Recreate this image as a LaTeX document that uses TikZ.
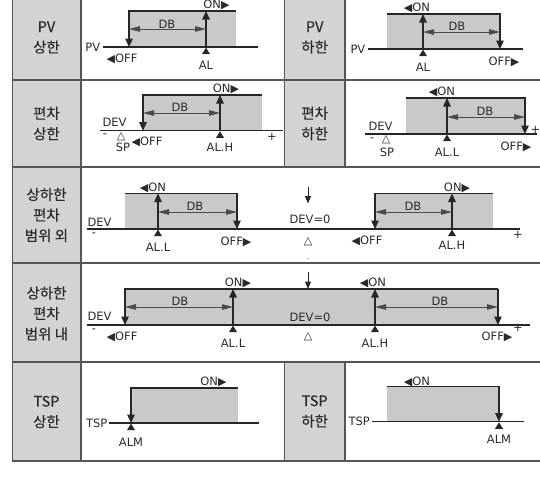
\documentclass[tikz,border=0pt]{standalone}
\usepackage{fontspec}
\setmainfont{DejaVu Sans}
\newfontfamily\kr[FakeBold=0.15]{Noto Sans CJK KR}
\usetikzlibrary{arrows.meta}
\definecolor{lgray}{HTML}{D3D3D3}
\definecolor{zgray}{HTML}{C9C9C9}
\definecolor{gridc}{HTML}{555555}
\definecolor{dbc}{HTML}{4A4A4A}
\definecolor{txtc}{HTML}{2A2A2A}
\newcommand\rtri{{\fontsize{11}{11}\selectfont▶}}
\newcommand\ltri{{\fontsize{11}{11}\selectfont◀}}
\newcommand\otri{{\fontsize{11}{11}\selectfont△}}
\newcommand\upmark[1]{\fill[black!85] (#1) ++(0,0.6) -- ++(4,6.5) -- ++(-8,0) -- cycle;}
\begin{document}
\begin{tikzpicture}[x=1pt,y=-1pt,
  grid/.style={draw=gridc,line width=1.6pt},
  lab/.style={font=\kr\fontsize{14.5}{20.5}\selectfont,align=center,inner sep=0,text=txtc},
  txt/.style={font=\fontsize{11.5}{11.5}\selectfont,inner sep=0,text=txtc},
  baseln/.style={draw=black!85,line width=1.3pt},
  zone/.style={fill=zgray},
  sig/.style={draw=black!85,line width=1.3pt,-{Triangle[width=7.5pt,length=8.5pt]}},
  dbarrow/.style={draw=dbc,line width=0.9pt,{Triangle[width=5.5pt,length=11pt]}-{Triangle[width=5.5pt,length=11pt]}}
]
\useasboundingbox (0,0) rectangle (540,477);
% ---------- table ----------
\fill[lgray] (12.3,0) rectangle (80.7,460.7);
\fill[lgray] (284.3,0) rectangle (345,166.7);
\fill[lgray] (284.3,361.7) rectangle (345,460.7);
\draw[grid] (12.3,0) -- (12.3,460.7);
\draw[grid] (80.7,0) -- (80.7,460.7);
\draw[grid] (284.3,0) -- (284.3,166.7);
\draw[grid] (345,0) -- (345,166.7);
\draw[grid] (284.3,361.7) -- (284.3,460.7);
\draw[grid] (345,361.7) -- (345,460.7);
\foreach \yy in {80,166.7,262.7,361.7,460.7} \draw[grid] (11.5,\yy) -- (540,\yy);
% ---------- row labels ----------
\node[lab] (l1) at (46.5,37.5) {PV\\상한};
\node[lab] (l2) at (46.5,123.5) {편차\\상한};
\node[lab] (l3) at (46.5,215) {상하한\\편차\\범위 외};
\node[lab] (l4) at (46.5,313.5) {상하한\\편차\\범위 내};
\node[lab] (l5) at (46.5,412) {TSP\\상한};
\node[lab] (r1) at (314.7,37.5) {PV\\하한};
\node[lab] (r2) at (314.7,123.5) {편차\\하한};
\node[lab] (r5) at (314.7,411.5) {TSP\\하한};
% ---------- row 1 left : PV upper ----------
\fill[zone] (129,11) rectangle (236,47);
\draw[baseln] (103,47) -- (258,47);
\draw[sig] (236,11) -- (129,11) -- (129,47);
\draw[sig] (206,47) -- (206,11);
\draw[dbarrow] (129,29) -- (206,29);
\node[txt] (a1db) at (167,24.5) {DB};
\node[txt,anchor=east] (a1pv) at (100.5,47.5) {PV};
\node[txt] (a1on) at (216.5,5) {ON\rtri};
\node[txt] (a1off) at (122,59) {\ltri OFF};
\upmark{206,47}
\node[txt] (a1al) at (206,65) {AL};
% ---------- row 1 right : PV lower ----------
\fill[zone] (387,14) rectangle (500,49);
\draw[baseln] (368,49) -- (523,49);
\draw[sig] (387,14) -- (500,14) -- (500,49);
\draw[sig] (423,49) -- (423,14);
\draw[dbarrow] (423,32) -- (500,32);
\node[txt] (b1db) at (457,26.5) {DB};
\node[txt,anchor=east] (b1pv) at (365.5,49) {PV};
\node[txt] (b1on) at (417,8) {\ltri ON};
\node[txt] (b1off) at (504,62) {OFF\rtri};
\upmark{423,49}
\node[txt] (b1al) at (423,67) {AL};
% ---------- row 2 left : deviation upper ----------
\fill[zone] (143,95) rectangle (262,130.7);
\draw[baseln] (100,130.7) -- (283,130.7);
\draw[sig] (262,95) -- (143,95) -- (143,130.7);
\draw[sig] (220,130.7) -- (220,95);
\draw[dbarrow] (143,113) -- (220,113);
\node[txt] (a2db) at (180,107.5) {DB};
\node[txt] (a2dev) at (114.5,122) {DEV};
\node[txt] (a2m) at (105,136) {-};
\node[txt] (a2t) at (121,136.5) {\otri};
\node[txt] (a2sp) at (123,147.5) {SP};
\node[txt] (a2off) at (147,142) {\ltri OFF};
\node[txt] (a2on) at (226,89) {ON\rtri};
\upmark{220,130.7}
\node[txt] (a2al) at (220,147.5) {AL.H};
\node[txt] (a2p) at (272,137) {+};
% ---------- row 2 right : deviation lower ----------
\fill[zone] (406,98) rectangle (525,134);
\draw[baseln] (365,134) -- (537,134);
\draw[sig] (406,98) -- (525,98) -- (525,134);
\draw[sig] (447,134) -- (447,98);
\draw[dbarrow] (447,117) -- (525,117);
\node[txt] (b2db) at (485,111.5) {DB};
\node[txt] (b2dev) at (380.5,126) {DEV};
\node[txt] (b2m) at (372,139.5) {-};
\node[txt] (b2t) at (386,140) {\otri};
\node[txt] (b2sp) at (387,152.5) {SP};
\node[txt] (b2on) at (442,92) {\ltri ON};
\upmark{447,134}
\node[txt] (b2al) at (447,152.5) {AL.L};
\node[txt] (b2off) at (516,147) {OFF\rtri};
\node[txt] (b2p) at (535.5,130) {+};
% ---------- row 3 : outside band ----------
\fill[zone] (125,193.5) rectangle (237,229);
\fill[zone] (375,193.5) rectangle (493,229);
\draw[baseln] (87,229) -- (520,229);
\draw[sig] (125,193.5) -- (237,193.5) -- (237,229);
\draw[sig] (158,229) -- (158,193.5);
\draw[dbarrow] (158,212) -- (237,212);
\node[txt] (c3db1) at (195,206.5) {DB};
\draw[sig] (493,193.5) -- (375,193.5) -- (375,229);
\draw[sig] (452,229) -- (452,193.5);
\draw[dbarrow] (375,212) -- (452,212);
\node[txt] (c3db2) at (413,206.5) {DB};
\node[txt] (c3dev) at (99.5,222.5) {DEV};
\node[txt] (c3m) at (94,235) {-};
\node[txt] (c3on1) at (153,188) {\ltri ON};
\upmark{158,229}
\node[txt] (c3all) at (158,247) {AL.L};
\node[txt] (c3off1) at (236,242) {OFF\rtri};
\coordinate (c3z1) at (308,186.5);
\coordinate (c3z2) at (308,203.5);
\draw[sig,line width=1pt,-{Triangle[width=6pt,length=7.5pt]}] (c3z1) -- (c3z2);
\node[txt] (c3dz) at (310,219) {DEV=0};
\node[txt] (c3t) at (308,242) {\otri};
\fill[black!60] (308,258.5) circle (0.6);
\node[txt] (c3on2) at (457,188) {ON\rtri};
\upmark{452,229}
\node[txt] (c3alh) at (452,245) {AL.H};
\node[txt] (c3off2) at (367,241) {\ltri OFF};
\node[txt] (c3p) at (518,235) {+};
% ---------- row 4 : inside band ----------
\fill[zone] (125,289) rectangle (498,325);
\draw[baseln] (87,325) -- (530,325);
\draw[sig] (498,289) -- (125,289) -- (125,325);
\draw[sig] (498,289) -- (498,325);
\draw[sig] (233,325) -- (233,289);
\draw[sig] (375,325) -- (375,289);
\draw[dbarrow] (125,307) -- (233,307);
\node[txt] (d4db1) at (180,301.5) {DB};
\draw[dbarrow] (375,307) -- (498,307);
\node[txt] (d4db2) at (440,301.5) {DB};
\node[txt] (d4dev) at (99.5,316.5) {DEV};
\node[txt] (d4m) at (94,331) {-};
\node[txt] (d4on1) at (238,283) {ON\rtri};
\node[txt] (d4on2) at (373,283) {\ltri ON};
\node[txt] (d4off1) at (122,337) {\ltri OFF};
\node[txt] (d4off2) at (497,337) {OFF\rtri};
\coordinate (d4z1) at (308,271.5);
\coordinate (d4z2) at (308,289);
\draw[sig,line width=1pt,-{Triangle[width=6pt,length=7.5pt]}] (d4z1) -- (d4z2);
\node[txt] (d4dz) at (310,317) {DEV=0};
\node[txt] (d4t) at (308,337) {\otri};
\upmark{233,325}
\upmark{375,325}
\node[txt] (d4all) at (233,343.5) {AL.L};
\node[txt] (d4alh) at (375,343.5) {AL.H};
\node[txt] (d4p) at (518,328) {+};
% ---------- row 5 left : TSP upper ----------
\fill[zone] (131,388) rectangle (238,423);
\draw[baseln] (109,423) -- (259,423);
\draw[sig] (238,388) -- (131,388) -- (131,423);
\node[txt,anchor=east] (e5tsp) at (107.5,423) {TSP};
\node[txt] (e5on) at (213.5,382) {ON\rtri};
\upmark{131,423}
\node[txt] (e5alm) at (131,442) {ALM};
% ---------- row 5 right : TSP lower ----------
\fill[zone] (387,386.7) rectangle (499,421.7);
\draw[baseln] (372,421.7) -- (524,421.7);
\draw[sig] (387,386.7) -- (499,386.7) -- (499,421.7);
\node[txt,anchor=east] (f5tsp) at (370,421.7) {TSP};
\node[txt] (f5on) at (417,381.7) {\ltri ON};
\upmark{499,421.7}
\node[txt] (f5alm) at (499,439) {ALM};
\end{tikzpicture}
\end{document}
